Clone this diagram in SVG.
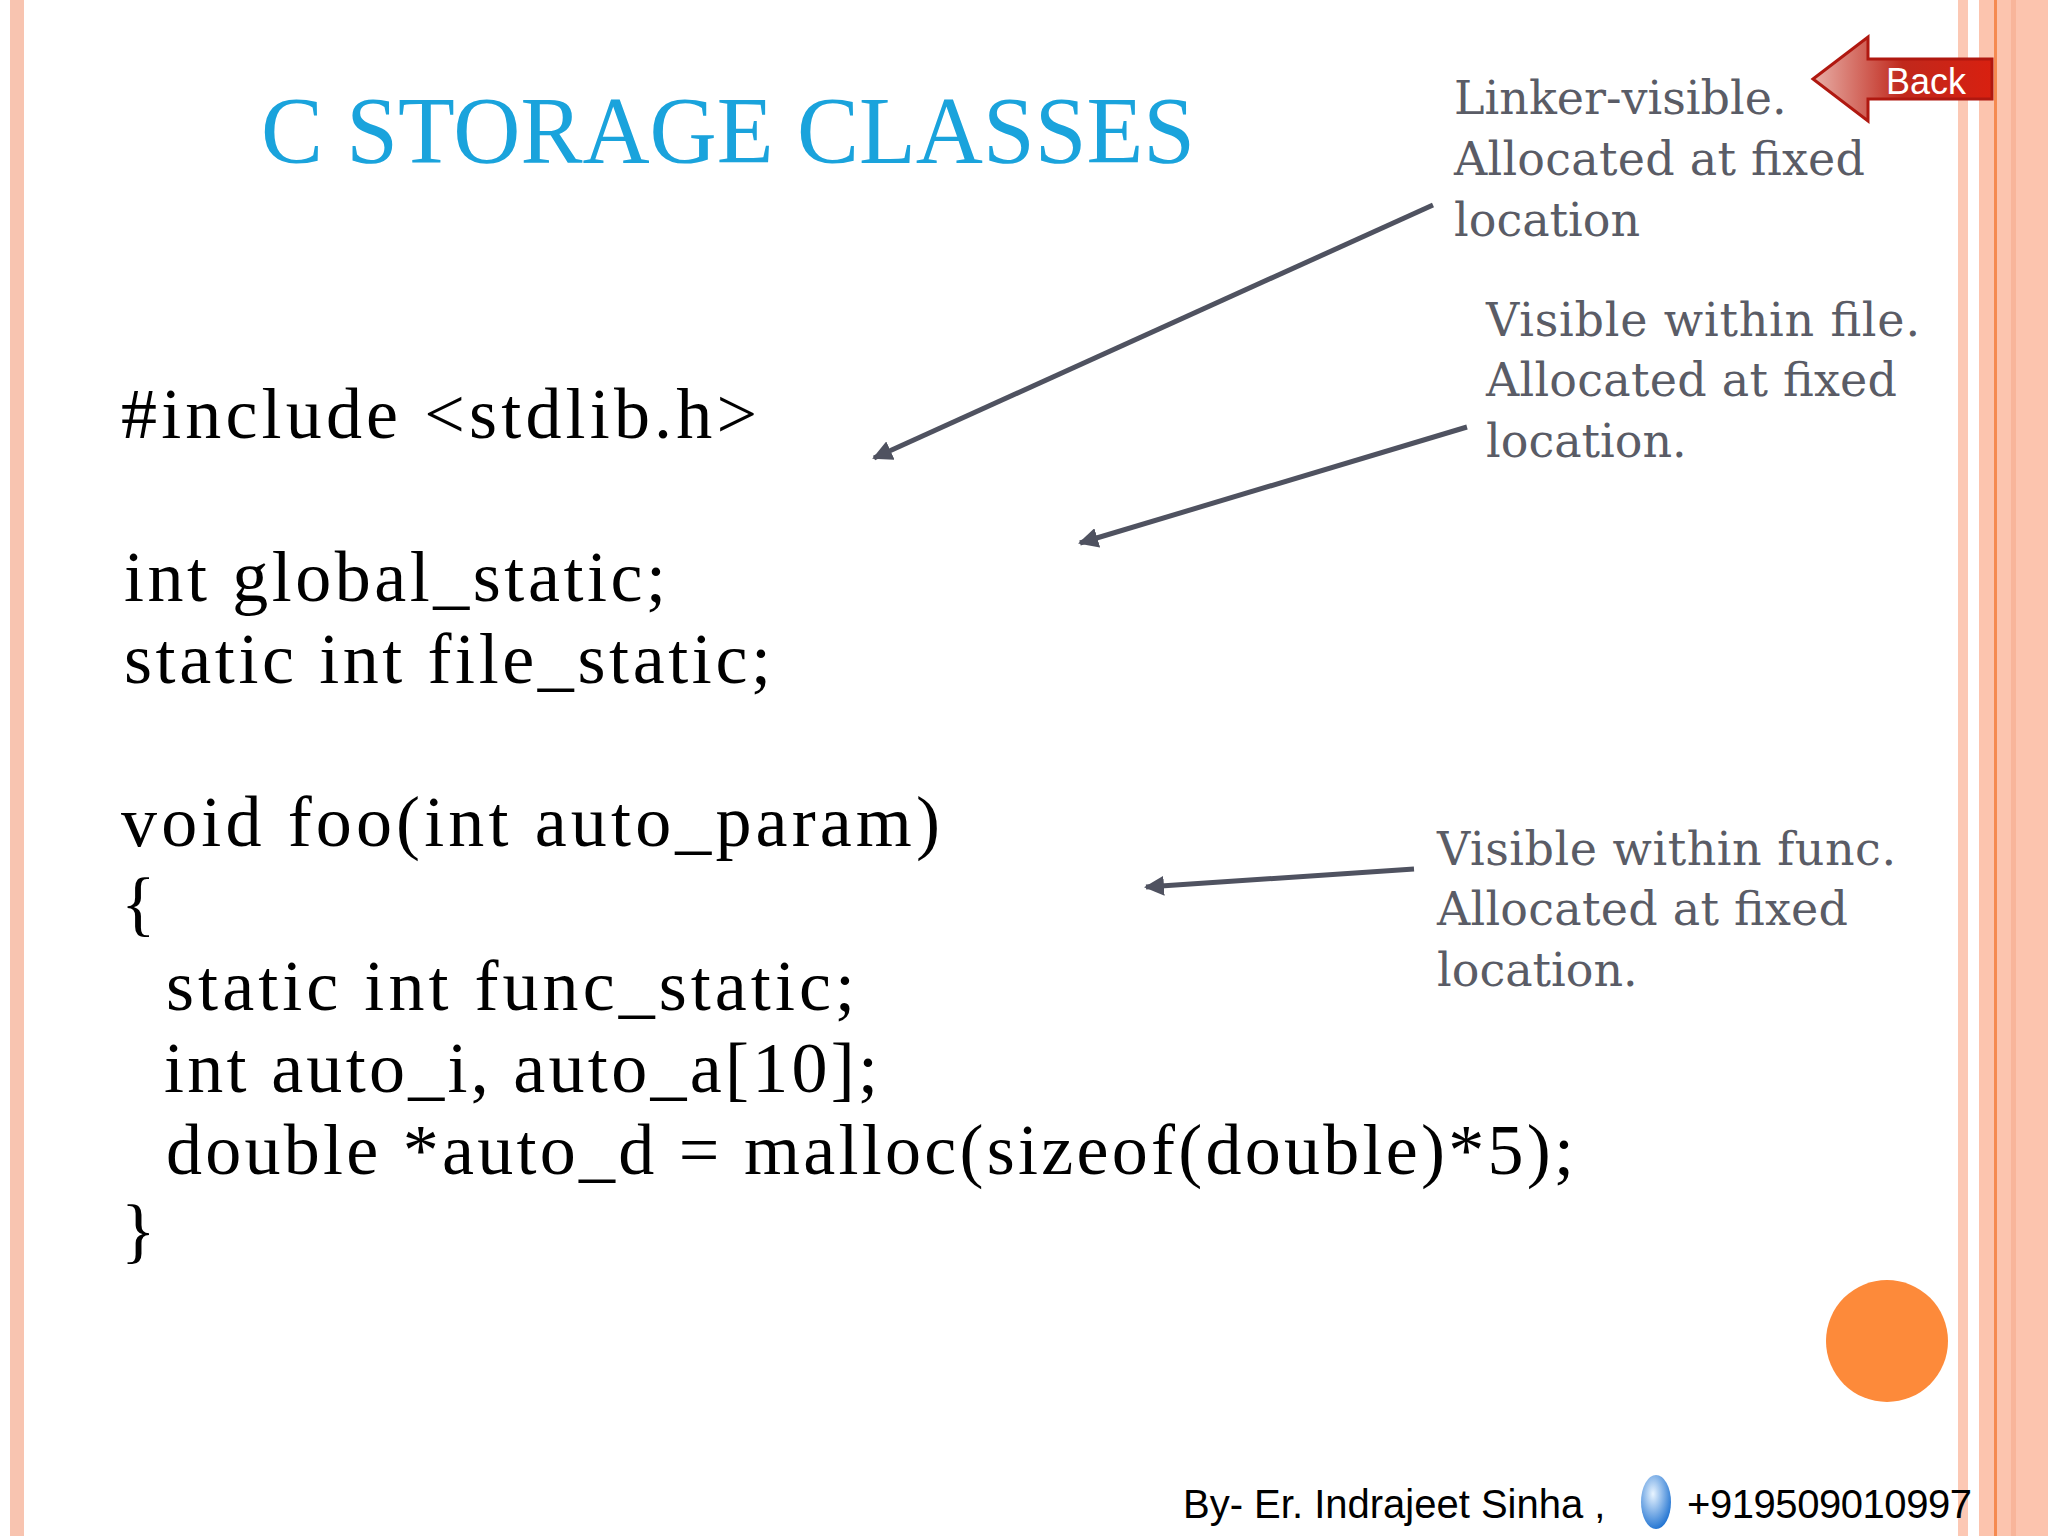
<svg xmlns="http://www.w3.org/2000/svg" width="2048" height="1536" viewBox="0 0 2048 1536">
<defs>
<style>
.code{font-family:"Liberation Serif","DejaVu Serif",serif;font-size:72px;fill:#000}
.note{font-family:"DejaVu Serif","Liberation Serif",serif;font-size:46px;fill:#5a5c66}
.foot{font-family:"Liberation Sans",Arial,sans-serif;font-size:40px;fill:#000}
.conn{stroke:#4f5260;stroke-width:5;fill:none;marker-end:url(#ah)}
</style>
<marker id="ah" viewBox="0 0 10 10" refX="9" refY="5" markerWidth="4" markerHeight="4" orient="auto"><path d="M0,0 L10,5 L0,10 z" fill="#4f5260"/></marker>
<linearGradient id="bg" x1="0" x2="1" y1="0" y2="0"><stop offset="0" stop-color="#e8b0a8"/><stop offset="0.5" stop-color="#c0281c"/><stop offset="1" stop-color="#d82010"/></linearGradient>
<radialGradient id="ph" cx="0.4" cy="0.35" r="0.7"><stop offset="0" stop-color="#e8f4ff"/><stop offset="1" stop-color="#1a6fd0"/></radialGradient>
</defs>
<rect width="2048" height="1536" fill="#fff"/>
<rect x="10" y="0" width="14" height="1536" fill="#f8c4b0"/>
<rect x="1958" y="0" width="10" height="1536" fill="#fcc8b4"/>
<rect x="1979" y="0" width="69" height="1536" fill="#fcc4ae"/>
<rect x="1994" y="0" width="3" height="1536" fill="#f58a50"/>
<rect x="2011" y="0" width="5" height="1536" fill="#f8b59a"/>
<g id="title"><text x="261" y="163" font-family="Liberation Serif,serif" font-size="96" fill="#1aa3dc" textLength="934" lengthAdjust="spacingAndGlyphs">C STORAGE CLASSES</text></g>
<g id="code">
<text class="code" x="121" y="438" textLength="636">#include &lt;stdlib.h&gt;</text>
<text class="code" x="124" y="601" textLength="542">int global_static;</text>
<text class="code" x="124" y="683" textLength="647">static int file_static;</text>
<text class="code" x="121" y="846" textLength="819">void foo(int auto_param)</text>
<text class="code" x="121" y="927">{</text>
<text class="code" x="166" y="1010" textLength="689">static int func_static;</text>
<text class="code" x="164" y="1092" textLength="714">int auto_i, auto_a[10];</text>
<text class="code" x="166" y="1174" textLength="1408">double *auto_d = malloc(sizeof(double)*5);</text>
<text class="code" x="121" y="1254">}</text>
</g>
<g id="note1"><text class="note" x="1454" y="114">Linker-visible.</text><text class="note" x="1454" y="175" textLength="411">Allocated at fixed</text><text class="note" x="1454" y="236">location</text></g>
<g id="note2"><text class="note" x="1486" y="336" textLength="434">Visible within file.</text><text class="note" x="1486" y="396" textLength="411">Allocated at fixed</text><text class="note" x="1486" y="457">location.</text></g>
<g id="note3"><text class="note" x="1437" y="865" textLength="459">Visible within func.</text><text class="note" x="1437" y="925" textLength="411">Allocated at fixed</text><text class="note" x="1437" y="986">location.</text></g>
<g id="connectors">
<line class="conn" x1="1433" y1="205" x2="874" y2="458"/>
<line class="conn" x1="1467" y1="427" x2="1080" y2="543"/>
<line class="conn" x1="1414" y1="869" x2="1146" y2="887"/>
</g>
<g id="back">
<path d="M1813,79 L1868,37 L1868,59 L1992,59 L1992,99 L1868,99 L1868,121 z" fill="url(#bg)" stroke="#b01810" stroke-width="3"/>
<text x="1886" y="94" font-family="Liberation Sans,sans-serif" font-size="36" fill="#fff">Back</text>
</g>
<circle cx="1887" cy="1341" r="61" fill="#fd8a3a"/>
<g id="footer">
<text class="foot" x="1183" y="1518">By- Er. Indrajeet Sinha ,</text>
<ellipse cx="1656" cy="1502" rx="15" ry="27" fill="url(#ph)"/>
<text class="foot" x="1687" y="1518" textLength="285">+919509010997</text>
</g>
</svg>
